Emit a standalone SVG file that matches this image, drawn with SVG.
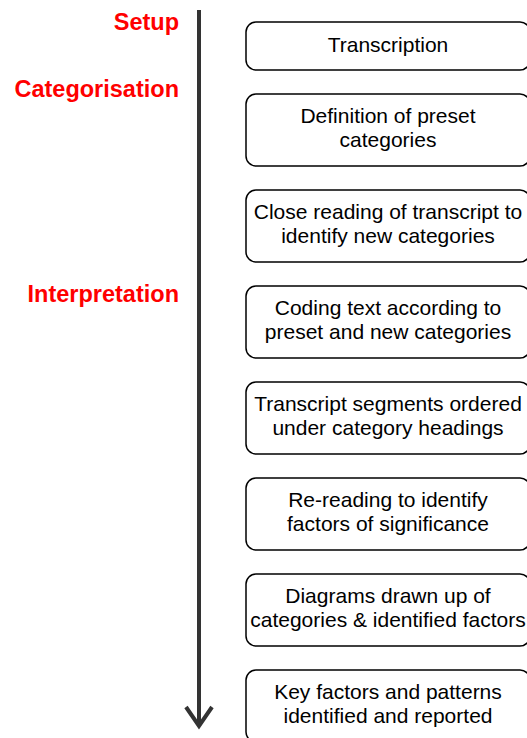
<svg xmlns="http://www.w3.org/2000/svg" width="527" height="738" viewBox="0 0 527 738">
<style>
.box{fill:#fff;stroke:#000;stroke-width:1.5}
.t{font-family:"Liberation Sans",Arial,sans-serif;font-size:21px;fill:#000;text-anchor:middle}
.ph{font-family:"Liberation Sans",Arial,sans-serif;font-size:23.5px;font-weight:bold;fill:#ff0000;text-anchor:end}
.ax{stroke:#333;stroke-width:4;fill:none}
</style>
<g id="phases">
<text class="ph" x="179" y="30">Setup</text>
<text class="ph" x="179" y="97">Categorisation</text>
<text class="ph" x="179" y="302">Interpretation</text>
</g>
<g id="connectors">
<line class="ax" x1="199" y1="10" x2="199" y2="726"/>
<polyline class="ax" points="186,707 199,726 212,707"/>
</g>
<g id="n1"><rect class="box" x="246" y="22" width="284" height="48" rx="10"/><text class="t" x="388" y="52">Transcription</text></g>
<g id="n2"><rect class="box" x="246" y="94" width="284" height="72" rx="10"/><text class="t" x="388" y="123">Definition of preset</text><text class="t" x="388" y="147">categories</text></g>
<g id="n3"><rect class="box" x="246" y="190" width="284" height="72" rx="10"/><text class="t" x="388" y="219">Close reading of transcript to</text><text class="t" x="388" y="243">identify new categories</text></g>
<g id="n4"><rect class="box" x="246" y="286" width="284" height="72" rx="10"/><text class="t" x="388" y="315">Coding text according to</text><text class="t" x="388" y="339">preset and new categories</text></g>
<g id="n5"><rect class="box" x="246" y="382" width="284" height="72" rx="10"/><text class="t" x="388" y="411">Transcript segments ordered</text><text class="t" x="388" y="435">under category headings</text></g>
<g id="n6"><rect class="box" x="246" y="478" width="284" height="72" rx="10"/><text class="t" x="388" y="507">Re-reading to identify</text><text class="t" x="388" y="531">factors of significance</text></g>
<g id="n7"><rect class="box" x="246" y="574" width="284" height="72" rx="10"/><text class="t" x="388" y="603">Diagrams drawn up of</text><text class="t" x="388" y="627">categories &amp; identified factors</text></g>
<g id="n8"><rect class="box" x="246" y="670" width="284" height="72" rx="10"/><text class="t" x="388" y="699">Key factors and patterns</text><text class="t" x="388" y="723">identified and reported</text></g>
</svg>
